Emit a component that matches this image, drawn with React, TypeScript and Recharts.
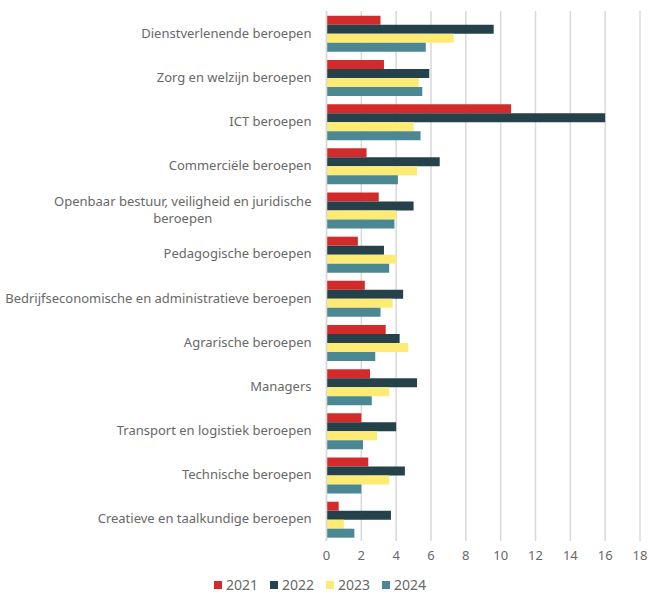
import { useLayoutEffect, useRef, useState } from "react";
import { Bar, BarChart, CartesianGrid, Legend, XAxis, YAxis } from "recharts";

const categories = [
  "Dienstverlenende beroepen",
  "Zorg en welzijn beroepen",
  "ICT beroepen",
  "Commerciële beroepen",
  "Openbaar bestuur, veiligheid en juridische\nberoepen",
  "Pedagogische beroepen",
  "Bedrijfseconomische en administratieve beroepen",
  "Agrarische beroepen",
  "Managers",
  "Transport en logistiek beroepen",
  "Technische beroepen",
  "Creatieve en taalkundige beroepen"
];

const values2021 = [3.1, 3.3, 10.6, 2.3, 3.0, 1.8, 2.2, 3.4, 2.5, 2.0, 2.4, 0.7];
const values2022 = [9.6, 5.9, 16.0, 6.5, 5.0, 3.3, 4.4, 4.2, 5.2, 4.0, 4.5, 3.7];
const values2023 = [7.3, 5.3, 5.0, 5.2, 4.0, 4.0, 3.8, 4.7, 3.6, 2.9, 3.6, 1.0];
const values2024 = [5.7, 5.5, 5.4, 4.1, 3.9, 3.6, 3.1, 2.8, 2.6, 2.1, 2.0, 1.6];

const xTicks = [0, 2, 4, 6, 8, 10, 12, 14, 16, 18];

const series = [
  { key: "y2021", name: "2021", color: "#d32b2b" },
  { key: "y2022", name: "2022", color: "#25414a" },
  { key: "y2023", name: "2023", color: "#feeb74" },
  { key: "y2024", name: "2024", color: "#4b8894" }
];

const data = categories.map((label, i) => ({
  label,
  y2021: values2021[i],
  y2022: values2022[i],
  y2023: values2023[i],
  y2024: values2024[i]
}));

const FONT = "'Noto Sans', sans-serif";
const TEXT = "#686868";

function CategoryTick({ x, y, payload }: { x?: number; y?: number; payload?: { value: string } }) {
  const lines = String(payload?.value ?? "").split("\n");
  const firstRef = useRef<SVGTextElement>(null);
  const [firstWidth, setFirstWidth] = useState(0);

  useLayoutEffect(() => {
    if (firstRef.current) setFirstWidth(firstRef.current.getComputedTextLength());
  }, [payload?.value]);

  const right = (x ?? 0) - 7;
  if (lines.length === 1) {
    return (
      <text x={right} y={y} dy={4.5} textAnchor="end" fill={TEXT} fontSize={13} fontFamily={FONT}>
        {lines[0]}
      </text>
    );
  }
  // wrapped label: lines centred on each other, block right-aligned
  const center = right - firstWidth / 2;
  return (
    <g>
      <text ref={firstRef} x={right} y={(y ?? 0) - 8.5} dy={4.5} textAnchor="end" fill={TEXT} fontSize={13} fontFamily={FONT}>
        {lines[0]}
      </text>
      <text x={center} y={(y ?? 0) + 8.5} dy={4.5} textAnchor="middle" fill={TEXT} fontSize={13} fontFamily={FONT}>
        {lines[1]}
      </text>
    </g>
  );
}

function LegendContent() {
  return (
    <div
      style={{
        display: "flex",
        justifyContent: "center",
        gap: 12,
        fontFamily: FONT,
        fontSize: 14,
        lineHeight: "19px",
        color: TEXT
      }}
    >
      {series.map((s) => (
        <span key={s.key} style={{ display: "flex", alignItems: "center", gap: 4 }}>
          <span style={{ width: 8, height: 8, background: s.color, display: "inline-block" }} />
          {s.name}
        </span>
      ))}
    </div>
  );
}

export default function App() {
  return (
    <div style={{ position: "absolute", left: 0, top: 0, width: 649, height: 594, background: "#fff" }}>
      <BarChart
        width={649}
        height={594}
        data={data}
        layout="vertical"
        margin={{ top: 11, right: 9, bottom: 0, left: 0 }}
        barCategoryGap="11%"
        barGap={0}
      >
        <CartesianGrid horizontal={false} stroke="#d9d9d9" strokeWidth={1.5} />
        <XAxis
          type="number"
          domain={[0, 18]}
          ticks={xTicks}
          axisLine={false}
          tickLine={false}
          tick={{ fill: TEXT, fontSize: 13, fontFamily: FONT, dy: 2 }}
          height={34}
          interval={0}
        />
        <YAxis
          type="category"
          dataKey="label"
          width={326.5}
          axisLine={{ stroke: "#d9d9d9", strokeWidth: 1.5 }}
          tickLine={false}
          tick={<CategoryTick />}
          interval={0}
        />
        <Legend verticalAlign="bottom" height={16} wrapperStyle={{ top: 575, height: 19 }} content={<LegendContent />} />
        {series.map((s) => (
          <Bar key={s.key} dataKey={s.key} name={s.name} fill={s.color} isAnimationActive={false} />
        ))}
      </BarChart>
    </div>
  );
}
